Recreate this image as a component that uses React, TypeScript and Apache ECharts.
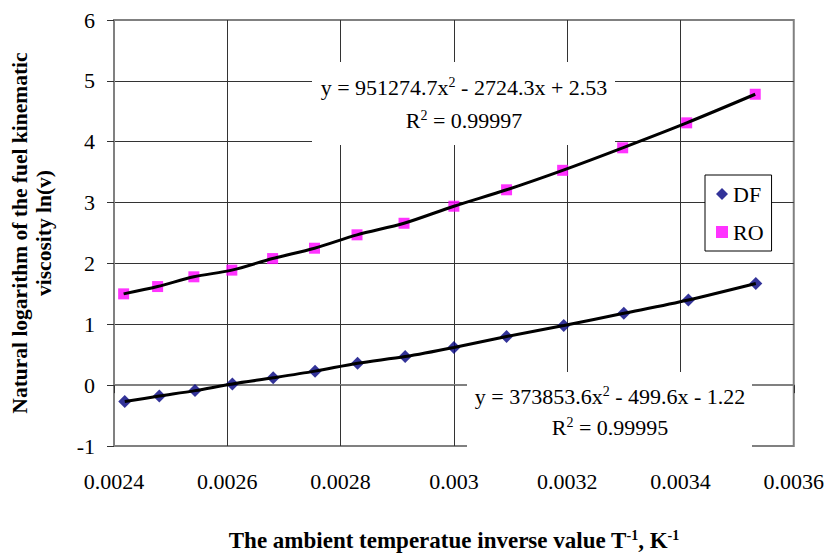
import React, { useEffect, useRef } from "react";
import * as echarts from "echarts";

const dfX = [0.002419, 0.00248, 0.002543, 0.002609, 0.002681, 0.002755, 0.00283, 0.002914, 0.003, 0.003093, 0.003194, 0.0033, 0.003414, 0.003533];
const dfY = [-0.27, -0.18, -0.09, 0.02, 0.12, 0.23, 0.36, 0.47, 0.62, 0.80, 0.98, 1.18, 1.40, 1.67];
const roX = [0.002417, 0.002477, 0.002541, 0.002608, 0.00268, 0.002754, 0.002829, 0.002912, 0.003, 0.003093, 0.003192, 0.003298, 0.003411, 0.003532];
const roY = [1.50, 1.62, 1.78, 1.89, 2.08, 2.25, 2.47, 2.66, 2.94, 3.21, 3.53, 3.90, 4.31, 4.78];

const seriesNames = ["DF", "RO"];
const eqRO = ["y = 951274.7x", "2", " - 2724.3x + 2.53", "R", "2", " = 0.99997"];
const eqDF = ["y = 373853.6x", "2", " - 499.6x - 1.22", "R", "2", " = 0.99995"];

const FONT = "'Liberation Serif', 'Times New Roman', serif";

const pairs = (xs: number[], ys: number[]) => xs.map((x, i) => [x, ys[i]]);

const richSup = {
  a: { fontSize: 22, fontFamily: FONT, color: "#000" },
  s: { fontSize: 14, fontFamily: FONT, color: "#000", padding: [0, 0, 10, 0] },
};

function eqGroup(eq: string[], box: { x: number; y: number; w: number; h: number }, cx: number, y1: number, y2: number) {
  return {
    type: "group",
    z: 100,
    children: [
      { type: "rect", z: 100, shape: { x: box.x, y: box.y, width: box.w, height: box.h }, style: { fill: "#fff" } },
      {
        type: "text",
        z: 101,
        x: cx,
        y: y1,
        style: { text: `{a|${eq[0]}}{s|${eq[1]}}{a|${eq[2]}}`, rich: richSup, align: "center", verticalAlign: "middle" },
      },
      {
        type: "text",
        z: 101,
        x: cx,
        y: y2,
        style: { text: `{a|${eq[3]}}{s|${eq[4]}}{a|${eq[5]}}`, rich: richSup, align: "center", verticalAlign: "middle" },
      },
    ],
  };
}

export default function App() {
  const ref = useRef<HTMLDivElement>(null);
  useEffect(() => {
    if (!ref.current) return;
    const chart = echarts.init(ref.current, null, { renderer: "svg" });
    chart.setOption({
      animation: false,
      backgroundColor: "#fff",
      grid: { left: 112, right: 33, top: 20, bottom: 93, show: true, borderColor: "#808080", borderWidth: 2 },
      legend: {
        data: seriesNames,
        orient: "vertical",
        left: 705,
        top: 175,
        padding: [8, 8, 8, 11],
        itemGap: 16,
        itemWidth: 12,
        itemHeight: 12,
        backgroundColor: "#fff",
        borderColor: "#000",
        borderWidth: 1,
        borderRadius: 0,
        textStyle: { fontSize: 22, fontFamily: FONT, color: "#000" },
        z: 100,
      },
      xAxis: {
        type: "value",
        min: 0.0024,
        max: 0.0036,
        interval: 0.0002,
        name: "{b|The ambient temperatue inverse value T}{s|-1}{b|, K}{s|-1}",
        nameLocation: "middle",
        nameGap: 82,
        nameTextStyle: {
          rich: {
            b: { fontSize: 23, fontWeight: "bold", fontFamily: FONT, color: "#000" },
            s: { fontSize: 14, fontWeight: "bold", fontFamily: FONT, color: "#000", padding: [0, 0, 11, 0] },
          },
        },
        axisLine: { show: true, lineStyle: { color: "#808080", width: 2 } },
        axisTick: { show: true, inside: false, length: 8, lineStyle: { color: "#333" } },
        axisLabel: {
          margin: 24,
          fontSize: 22,
          fontFamily: FONT,
          color: "#000",
          formatter: (v: number) => String(+v.toFixed(4)),
        },
        splitLine: { show: true, showMinLine: false, showMaxLine: false, lineStyle: { color: "#333", width: 1 } },
      },
      yAxis: {
        type: "value",
        min: -1,
        max: 6,
        interval: 1,
        name: "Natural logarithm of the fuel kinematic\nviscosity ln(v)",
        nameLocation: "middle",
        nameGap: 58,
        nameTextStyle: { fontSize: 21.5, fontWeight: "bold", fontFamily: FONT, color: "#000", lineHeight: 24 },
        axisLine: { show: true, lineStyle: { color: "#808080", width: 2 } },
        axisTick: { show: true, inside: false, length: 7, lineStyle: { color: "#333" } },
        axisLabel: { margin: 19, fontSize: 22, fontFamily: FONT, color: "#000" },
        splitLine: { show: true, showMinLine: false, showMaxLine: false, lineStyle: { color: "#333", width: 1 } },
      },
      graphic: [
        eqGroup(eqRO, { x: 312, y: 62, w: 303, h: 83 }, 464, 87, 120),
        eqGroup(eqDF, { x: 467, y: 372, w: 285, h: 83 }, 610, 396, 427),
      ],
      series: [
        {
          name: "DF",
          type: "scatter",
          symbol: "diamond",
          symbolSize: 13,
          itemStyle: { color: "#000080" },
          data: pairs(dfX, dfY),
          z: 2,
        },
        {
          name: "RO",
          type: "scatter",
          symbol: "rect",
          symbolSize: 11,
          itemStyle: { color: "#ff00ff" },
          data: pairs(roX, roY),
          z: 2,
        },
        {
          name: "DF trend",
          type: "line",
          showSymbol: false,
          smooth: 0.3,
          lineStyle: { color: "#000", width: 3 },
          data: pairs(dfX, dfY),
          z: 3,
        },
        {
          name: "RO trend",
          type: "line",
          showSymbol: false,
          smooth: 0.3,
          lineStyle: { color: "#000", width: 3 },
          data: pairs(roX, roY),
          z: 3,
        },
      ],
    });
    return () => chart.dispose();
  }, []);
  return <div ref={ref} style={{ width: 827, height: 557, position: "absolute", left: 0, top: 0 }} />;
}
